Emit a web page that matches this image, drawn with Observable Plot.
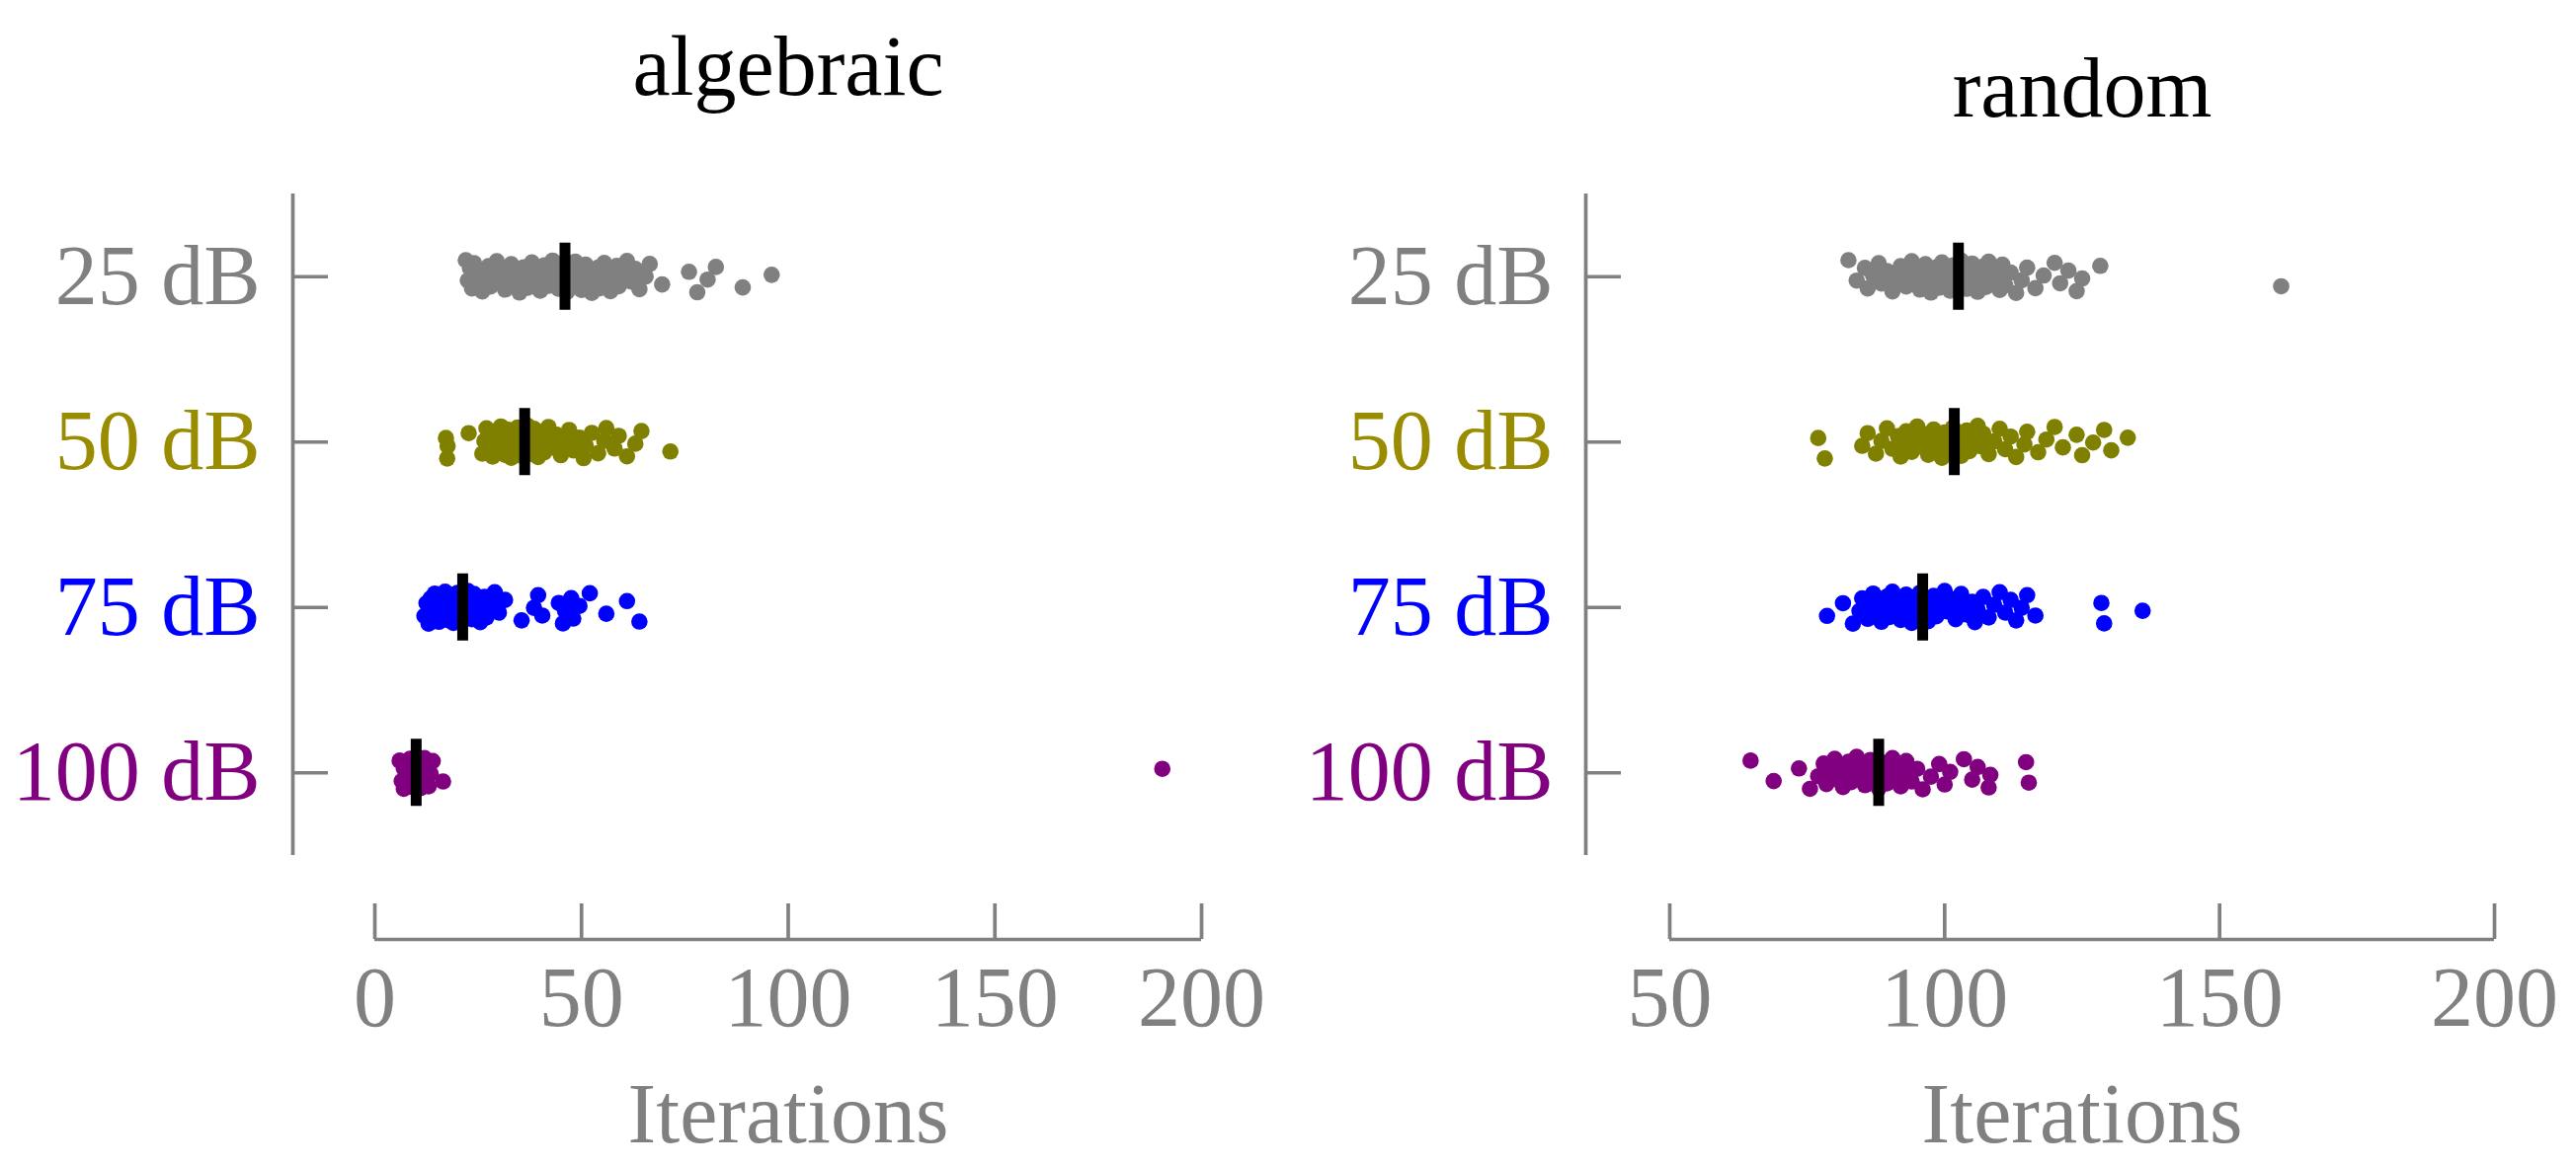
<!DOCTYPE html>
<html>
<head>
<meta charset="utf-8">
<script src="https://cdn.jsdelivr.net/npm/d3@7"></script>
<script src="https://cdn.jsdelivr.net/npm/@observablehq/plot@0.6"></script>
<style>
html, body { margin: 0; padding: 0; background: #ffffff; }
#chart { display: flex; width: 2608px; height: 1183px; overflow: hidden; }
#chart svg { flex: none; }
</style>
</head>
<body>
<div id="chart"></div>
<script>
// ---- data ----
const categories = ["25 dB", "50 dB", "75 dB", "100 dB"];
const groupColors = ["#808080", "#808000", "#0000ff", "#800080"];
const labelColors = ["#808080", "#998c00", "#0000ff", "#800080"];
const panelTitles = ["algebraic", "random"];
const axisLabel = "Iterations";
const xTicksAlgebraic = [0, 50, 100, 150, 200];
const xTicksRandom = [50, 100, 150, 200];

const algebraic25 = [22, 22.5, 23, 23.5, 24, 24, 25, 25.5, 26, 27, 27.5, 28, 29, 29.5, 30, 31, 31.5, 32, 33, 33.5, 34, 35, 35.5, 36, 37, 37.5, 38, 39, 39.5, 40, 40.5, 41, 42, 42.5, 43, 43.5, 44, 44.5, 45, 45.5, 46, 46, 46.5, 47, 47, 47.5, 48, 48.5, 49, 49.5, 50, 50.5, 51, 51.5, 52, 52.5, 53, 54, 54.5, 55, 55.5, 56, 56.5, 57, 58, 58.5, 59, 60, 61, 62, 63, 64, 65.5, 66.5, 69.5, 76, 78, 80.5, 82.5, 89, 96];
const algebraic50 = [17.2, 17.5, 17.6, 22.7, 26, 26.5, 27, 28, 28, 28.5, 29, 29.5, 30, 30, 30.5, 31, 31, 31.5, 32, 32, 32.5, 33, 33, 33.5, 34, 34, 34.5, 34.5, 35, 35, 35.5, 35.5, 36, 36, 36.5, 37, 37, 37.5, 38, 38, 38.5, 39, 39, 39.5, 40, 40.5, 41, 41.5, 42, 43, 44, 45, 46, 47, 48, 49.5, 50.5, 51, 52.5, 54, 55.5, 56, 58, 59, 61, 63, 64.5, 71.5];
const algebraic75 = [12, 12.5, 13, 13, 13.5, 14, 14, 14.5, 15, 15, 15.5, 15.5, 16, 16, 16.5, 17, 17, 17.5, 17.5, 18, 18, 18.5, 18.5, 19, 19, 19.5, 19.5, 20, 20, 20, 20.5, 21, 21, 21.5, 22, 22, 22.5, 23, 23, 23.5, 24, 24, 24.5, 25, 25.5, 26, 26.5, 27, 28, 29, 30, 31.5, 35.5, 38.5, 39.5, 40.5, 44.5, 45.5, 46, 47.5, 48, 49.5, 52, 56, 61, 64];
const algebraic100 = [6, 6.5, 7, 7, 7.5, 8, 8, 8, 8.5, 8.5, 9, 9, 9, 9.5, 9.5, 9.5, 10, 10, 10, 10, 10.5, 10.5, 10.5, 11, 11, 11, 11.5, 11.5, 12, 12, 12.5, 13, 13, 13.5, 14, 16.5, 190.5];

const random25 = [82.5, 84, 85.5, 86, 87, 88, 88.5, 89.5, 90.5, 91, 92, 93, 93.5, 94, 95, 95, 95.5, 96, 96.5, 97, 97, 97.5, 98, 98.5, 99, 99, 99.5, 100, 100.5, 101, 101, 101.5, 102, 102.5, 103, 103.5, 104, 104, 104.5, 105, 105.5, 106, 106, 106.5, 107, 107.5, 108, 108, 108.5, 109, 110, 110, 110.5, 111, 112, 113, 114, 115, 116.5, 118, 120, 121, 122.5, 124, 125, 128.3, 161.2];
const random50 = [77, 78.2, 85, 86, 87.5, 88.5, 89.5, 90.5, 91.5, 92, 92.5, 93, 94, 94.5, 95, 96, 96.5, 97, 97.5, 98, 98.5, 99, 99.5, 100, 100, 100.5, 101, 101.5, 102, 102.5, 103, 103.5, 104, 104.5, 105, 106, 106.5, 107, 108, 109, 110, 111, 112, 113, 114.5, 115, 117, 118.5, 120, 121.5, 124, 125, 127, 129, 130.3, 133.3];
const random75 = [78.6, 81.5, 83.3, 84.5, 85, 86, 86.5, 87, 87.5, 88, 88.5, 89, 89.5, 90, 90, 90.5, 91, 91.5, 92, 92.5, 93, 93, 93.5, 94, 94, 94.5, 95, 95, 95.5, 96, 96.5, 97, 97.5, 98, 98.5, 99, 100, 100.5, 101, 102, 102.5, 103, 104, 105, 105.5, 106, 107, 108, 109, 110, 111, 112, 113, 114, 115, 116.5, 128.5, 129, 136];
const random100 = [64.7, 68.9, 73.5, 75.5, 77, 78, 78.5, 79, 80, 80.5, 81, 81.5, 82, 82.5, 83, 83.5, 84, 84.5, 85, 85.5, 86, 86.5, 87, 87.5, 88, 88.5, 89, 89.5, 90, 90.5, 91, 91.5, 92, 92.5, 93, 94, 95, 96, 97.5, 99, 100, 101, 103.5, 105, 106, 108, 108.3, 114.8, 115.3];

// ---- layout / style ----
const GRAY = "#808080";
const FONT = "'Liberation Serif', 'DejaVu Serif', serif";
const FS = 86;
const W = 1304, H = 1183;
const MT = 196, MB = 317;
const AXIS_W = 3.7;
const JITTER = 0.1;     // half-width of vertical jitter, in category units
const MED_HALF = 0.203; // half-height of the median bar, in category units

const panels = [
  {title: panelTitles[0], ticks: xTicksAlgebraic, groups: [algebraic25, algebraic50, algebraic75, algebraic100],
   ml: 379, mr: 88, axisDx: -83, titleDy: -128.5},
  {title: panelTitles[1], ticks: xTicksRandom, groups: [random25, random50, random75, random100],
   ml: 386, mr: 83, axisDx: -85, titleDy: -106.5}
];

function makePanel(p) {
  const idx = d3.range(categories.length);
  const rows = [];
  p.groups.forEach((vals, g) => {
    vals.forEach((v, i) => {
      // deterministic low-discrepancy spread for strip jitter
      const u = ((i * 0.6180339887 + g * 0.377) % 1) - 0.5;
      rows.push({g, value: v, pos: g + u * 2 * JITTER, color: groupColors[g]});
    });
  });
  const med = p.groups.map((vals, g) => ({g, m: d3.median(vals)}));
  const x0 = p.ticks[0], x1 = p.ticks[p.ticks.length - 1];
  const yBottom = categories.length - 0.5;

  return Plot.plot({
    width: W, height: H,
    marginLeft: p.ml, marginRight: p.mr, marginTop: MT, marginBottom: MB,
    style: {fontFamily: FONT, background: "#ffffff", overflow: "visible"},
    x: {domain: [x0, x1], label: null},
    y: {domain: [yBottom, -0.5], label: null},
    color: {type: "identity"},
    marks: [
      // y axis line
      Plot.ruleX([x0], {dx: p.axisDx, stroke: GRAY, strokeWidth: AXIS_W}),
      // x axis line
      Plot.ruleY([yBottom], {x1: x0, x2: x1, dy: 85, stroke: GRAY, strokeWidth: AXIS_W}),
      Plot.axisY(idx, {
        anchor: "left", dx: p.axisDx, tickSize: -36, tickPadding: 69, label: null,
        tickFormat: (i) => categories[i], fill: (i) => labelColors[i],
        stroke: GRAY, strokeWidth: AXIS_W, fontSize: FS, fontFamily: FONT
      }),
      Plot.axisX(p.ticks, {
        anchor: "bottom", dy: 85, tickSize: -36, tickPadding: 62, label: null,
        tickFormat: (d) => String(d),
        stroke: GRAY, fill: GRAY, strokeWidth: AXIS_W, fontSize: FS, fontFamily: FONT
      }),
      Plot.dot(rows, {x: "value", y: "pos", r: 8.3, fill: "color", stroke: null}),
      Plot.ruleX(med, {x: "m", y1: (d) => d.g - MED_HALF, y2: (d) => d.g + MED_HALF, stroke: "#000000", strokeWidth: 11}),
      Plot.text([p.title], {frameAnchor: "top", lineAnchor: "middle", dy: p.titleDy, fontSize: FS, fill: "#000000", fontFamily: FONT}),
      Plot.text([axisLabel], {frameAnchor: "bottom", lineAnchor: "middle", dy: 262.5, fontSize: FS, fill: GRAY, fontFamily: FONT})
    ]
  });
}

const chart = document.getElementById("chart");
panels.forEach((p) => chart.appendChild(makePanel(p)));
</script>
</body>
</html>
